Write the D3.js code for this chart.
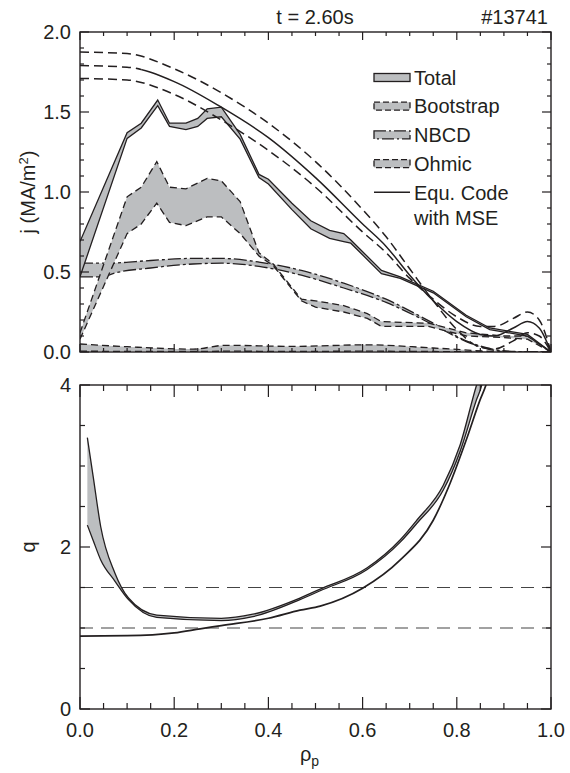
<!DOCTYPE html>
<html><head><meta charset="utf-8">
<script src="https://cdn.jsdelivr.net/npm/d3@7"></script>
<style>
body{margin:0;background:#fff}
text{font-family:"Liberation Sans",Arial,Helvetica,sans-serif;fill:#231f20}
</style>
</head><body>
<svg id="c" width="570" height="773"></svg>
<script>
// ---------- DATA ----------
const titleText = "t = 2.60s";
const shotText = "#13741";
const xTicks = [0, 0.2, 0.4, 0.6, 0.8, 1.0];
const jTicks = [0, 0.5, 1.0, 1.5, 2.0];
const qTicks = [0, 2, 4];
const legendLabels = ["Total", "Bootstrap", "NBCD", "Ohmic"];
const legendEqu = ["Equ. Code", "with MSE"];

// [rho, upper, lower]
const total = [[0,0.69,0.47],[0.1,1.37,1.335],[0.13,1.43,1.40],[0.165,1.575,1.54],[0.19,1.43,1.41],
 [0.225,1.43,1.39],[0.25,1.46,1.41],[0.27,1.52,1.46],[0.30,1.53,1.47],[0.34,1.36,1.33],
 [0.38,1.11,1.09],[0.40,1.08,1.05],[0.45,0.93,0.89],[0.49,0.82,0.77],[0.53,0.76,0.71],
 [0.56,0.74,0.69],[0.575,0.70,0.68],[0.64,0.51,0.49],[0.68,0.47,0.46],[0.75,0.38,0.37],
 [0.82,0.23,0.22],[0.87,0.15,0.14],[0.95,0.11,0.10],[1.0,0,0]];
const bootstrap = [[0,0.12,0.08],[0.1,0.97,0.74],[0.13,1.03,0.80],[0.163,1.19,0.93],[0.19,1.03,0.81],
 [0.225,1.02,0.79],[0.27,1.085,0.845],[0.30,1.07,0.845],[0.34,0.94,0.74],[0.38,0.62,0.60],
 [0.41,0.55,0.54],[0.47,0.33,0.32],[0.5,0.32,0.28],[0.56,0.29,0.25],[0.61,0.24,0.21],
 [0.64,0.19,0.16],[0.74,0.18,0.16],[0.82,0.12,0.10],[0.9,0.10,0.09],[0.95,0.10,0.08],[1,0,0]];
const nbcd = [[0,0.555,0.47],[0.05,0.555,0.47],[0.07,0.556,0.49],[0.15,0.572,0.525],[0.24,0.585,0.55],
 [0.3,0.585,0.555],[0.38,0.562,0.535],[0.47,0.51,0.48],[0.56,0.43,0.40],[0.65,0.33,0.31],
 [0.75,0.18,0.17],[0.82,0.07,0.065],[0.88,0.015,0.01],[0.93,0.003,0],[1,0,0]];
const ohmic = [[0,0.05,0.005],[0.1,0.033,0.004],[0.24,0.018,0.003],[0.31,0.042,0.005],[0.45,0.035,0.004],
 [0.61,0.045,0.005],[0.75,0.025,0.003],[0.89,0.003,0],[1,0,0]];

// Equilibrium code with MSE: [rho, j]
const equHi = [[0,1.875],[0.1,1.865],[0.2,1.77],[0.3,1.62],[0.4,1.43],[0.5,1.19],[0.6,0.89],[0.65,0.72],
 [0.7,0.52],[0.75,0.32],[0.8,0.14],[0.85,0.03],[0.88,0.02],[0.92,0.07],[0.95,0.12],[0.975,0.1],[1,0]];
const equMid = [[0,1.79],[0.1,1.78],[0.2,1.69],[0.3,1.53],[0.4,1.34],[0.5,1.09],[0.6,0.80],[0.65,0.66],
 [0.7,0.48],[0.75,0.32],[0.8,0.19],[0.85,0.11],[0.88,0.1],[0.92,0.15],[0.95,0.19],[0.975,0.15],[1,0]];
const equLo = [[0,1.71],[0.1,1.70],[0.2,1.61],[0.3,1.45],[0.4,1.26],[0.5,1.03],[0.6,0.75],[0.65,0.62],
 [0.7,0.46],[0.75,0.33],[0.8,0.22],[0.85,0.16],[0.88,0.16],[0.92,0.21],[0.95,0.25],[0.975,0.2],[1,0]];

// q profiles
const qBand = [[0.0156,3.35,2.27],[0.028,2.87,2.08],[0.044,2.25,1.84],[0.074,1.68,1.58],[0.103,1.37,1.35],
 [0.163,1.16,1.13],[0.30,1.12,1.09],[0.367,1.17,1.14],[0.467,1.37,1.35],[0.51,1.48,1.46],
 [0.609,1.74,1.72],[0.68,2.09,2.06],[0.715,2.33,2.29],[0.771,2.76,2.70],[0.807,3.26,3.18],
 [0.842,4.0,3.82],[0.853,4.2,4.0],[0.86,4.4,4.2]];
const qEqu = [[0,0.9],[0.1,0.905],[0.2,0.94],[0.255,0.99],[0.3,1.03],[0.4,1.12],[0.467,1.22],[0.51,1.27],
 [0.6,1.49],[0.68,1.84],[0.75,2.33],[0.786,2.79],[0.82,3.32],[0.849,3.81],[0.863,4.02],[0.875,4.3]];
const qRef = [1.0, 1.5];

// ---------- LAYOUT ----------
const L = 80, R = 551;
const T1 = 32, B1 = 352, T2 = 385, B2 = 709;
const INK = "#231f20", GRAY = "#bcbec0";
const FS = 20;

const svg = d3.select("#c");
const x = d3.scaleLinear().domain([0,1]).range([L,R]);
const yj = d3.scaleLinear().domain([0,2]).range([B1,T1]);
const yq = d3.scaleLinear().domain([0,4]).range([B2,T2]);

const defs = svg.append("defs");
defs.append("clipPath").attr("id","cp1").append("rect").attr("x",L).attr("y",T1).attr("width",R-L).attr("height",B1-T1);
defs.append("clipPath").attr("id","cp2").append("rect").attr("x",L).attr("y",T2).attr("width",R-L).attr("height",B2-T2);

function band(g, data, y, dash, curve){
  const area = d3.area().x(d=>x(d[0])).y0(d=>y(d[2])).y1(d=>y(d[1])).curve(curve);
  g.append("path").attr("d",area(data)).attr("fill",GRAY).attr("stroke","none");
  [1,2].forEach(k=>{
    const ln = d3.line().x(d=>x(d[0])).y(d=>y(d[k])).curve(curve);
    g.append("path").attr("d",ln(data)).attr("fill","none").attr("stroke",INK)
      .attr("stroke-width",1.3).attr("stroke-dasharray",dash);
  });
}
function line(g, data, y, dash, w, curve){
  const ln = d3.line().x(d=>x(d[0])).y(d=>y(d[1])).curve(curve||d3.curveMonotoneX);
  g.append("path").attr("d",ln(data)).attr("fill","none").attr("stroke",INK)
    .attr("stroke-width",w||1.5).attr("stroke-dasharray",dash);
}

// ---------- TOP PANEL ----------
const g1 = svg.append("g").attr("clip-path","url(#cp1)");
band(g1, ohmic, yj, "7,4", d3.curveMonotoneX);
band(g1, nbcd, yj, "13,3,3,3", d3.curveMonotoneX);
band(g1, bootstrap, yj, "7,4", d3.curveLinear);
band(g1, total, yj, null, d3.curveLinear);
line(g1, equHi, yj, "9,5", 1.5);
line(g1, equLo, yj, "9,5", 1.5);
const midCurve = d3.line().x(d=>x(d[0])).y(d=>yj(d[1])).curve(d3.curveMonotoneX);
const midPath = midCurve(equMid);
const splitX = x(0.13);
defs.append("clipPath").attr("id","cpA").append("rect").attr("x",L).attr("y",T1).attr("width",splitX-L).attr("height",B1-T1);
defs.append("clipPath").attr("id","cpB").append("rect").attr("x",splitX).attr("y",T1).attr("width",R-splitX).attr("height",B1-T1);
g1.append("path").attr("d",midPath).attr("fill","none").attr("stroke",INK).attr("stroke-width",1.5)
  .attr("stroke-dasharray","9,5").attr("clip-path","url(#cpA)");
g1.append("path").attr("d",midPath).attr("fill","none").attr("stroke",INK).attr("stroke-width",1.5)
  .attr("clip-path","url(#cpB)");

// ---------- BOTTOM PANEL ----------
const g2 = svg.append("g").attr("clip-path","url(#cp2)");
qRef.forEach(v=>{
  g2.append("line").attr("x1",L).attr("x2",R).attr("y1",yq(v)).attr("y2",yq(v))
    .attr("stroke","#444").attr("stroke-width",1.2).attr("stroke-dasharray","13,8");
});
band(g2, qBand, yq, null, d3.curveMonotoneX);
line(g2, qEqu, yq, null, 1.7);

// ---------- AXES / FRAMES ----------
function frame(yS, T, B, majorY, minorY, tlx, tlxm, tly, tlym, fmt){
  const g = svg.append("g");
  g.append("rect").attr("x",L).attr("y",T).attr("width",R-L).attr("height",B-T)
    .attr("fill","none").attr("stroke",INK).attr("stroke-width",1.4);
  const minorX = d3.range(0,1.0001,0.05);
  minorX.forEach(v=>{
    const isMaj = xTicks.some(t=>Math.abs(t-v)<1e-6);
    const len = isMaj ? tlx : tlxm;
    g.append("line").attr("x1",x(v)).attr("x2",x(v)).attr("y1",B).attr("y2",B-len).attr("stroke",INK).attr("stroke-width",1.2);
    g.append("line").attr("x1",x(v)).attr("x2",x(v)).attr("y1",T).attr("y2",T+len).attr("stroke",INK).attr("stroke-width",1.2);
  });
  minorY.forEach(v=>{
    const isMaj = majorY.some(t=>Math.abs(t-v)<1e-6);
    const len = isMaj ? tly : tlym;
    g.append("line").attr("y1",yS(v)).attr("y2",yS(v)).attr("x1",L).attr("x2",L+len).attr("stroke",INK).attr("stroke-width",1.2);
    g.append("line").attr("y1",yS(v)).attr("y2",yS(v)).attr("x1",R).attr("x2",R-len).attr("stroke",INK).attr("stroke-width",1.2);
  });
  majorY.forEach(v=>{
    g.append("text").attr("x",L-9).attr("y",yS(v)).attr("dy","0.36em").attr("text-anchor","end")
      .attr("font-size",FS).text(fmt(v));
  });
}
frame(yj, T1, B1, jTicks, d3.range(0,2.0001,0.1), 8, 4, 9, 4, d3.format(".1f"));
frame(yq, T2, B2, qTicks, d3.range(0,4.0001,0.5), 12, 6, 10, 5, d3.format("d"));

xTicks.forEach(v=>{
  svg.append("text").attr("x",x(v)).attr("y",737).attr("text-anchor","middle").attr("font-size",FS)
    .text(d3.format(".1f")(v));
});
const xt = svg.append("text").attr("x",(L+R)/2-6).attr("y",761).attr("text-anchor","middle").attr("font-size",FS);
xt.append("tspan").text("ρ");
xt.append("tspan").attr("dy",5).attr("font-size",14).text("p");

const yt1 = svg.append("text").attr("transform",`translate(35,${(T1+B1)/2}) rotate(-90)`)
  .attr("text-anchor","middle").attr("font-size",FS);
yt1.append("tspan").text("j (MA/m");
yt1.append("tspan").attr("dy",-7).attr("font-size",13).text("2");
yt1.append("tspan").attr("dy",7).text(")");
svg.append("text").attr("transform",`translate(35,${(T2+B2)/2}) rotate(-90)`)
  .attr("text-anchor","middle").attr("font-size",FS).text("q");

svg.append("text").attr("x",315).attr("y",24).attr("text-anchor","middle").attr("font-size",FS).text(titleText);
svg.append("text").attr("x",548).attr("y",24).attr("text-anchor","end").attr("font-size",FS).text(shotText);

// legend
const legDash = [null, "6,3", "12,3,2,3", "6,3"];
const lg = svg.append("g");
const legY0 = 77.5, legStep = 28.7, swX = 374, swW = 36, swH = 8;
legendLabels.forEach((lab,i)=>{
  const cy = legY0 + i*legStep;
  lg.append("rect").attr("x",swX).attr("y",cy-swH/2).attr("width",swW).attr("height",swH)
    .attr("fill",GRAY).attr("stroke",INK).attr("stroke-width",1.3).attr("stroke-dasharray",legDash[i]);
  lg.append("text").attr("x",swX+swW+4).attr("y",cy).attr("dy","0.36em").attr("font-size",FS).text(lab);
});
const ce = legY0 + 4*legStep;
lg.append("line").attr("x1",swX).attr("x2",swX+swW).attr("y1",ce).attr("y2",ce).attr("stroke",INK).attr("stroke-width",1.5);
lg.append("text").attr("x",swX+swW+4).attr("y",ce).attr("dy","0.36em").attr("font-size",FS).text(legendEqu[0]);
lg.append("text").attr("x",swX+swW+4).attr("y",ce+25).attr("dy","0.36em").attr("font-size",FS).text(legendEqu[1]);
</script>
</body></html>
